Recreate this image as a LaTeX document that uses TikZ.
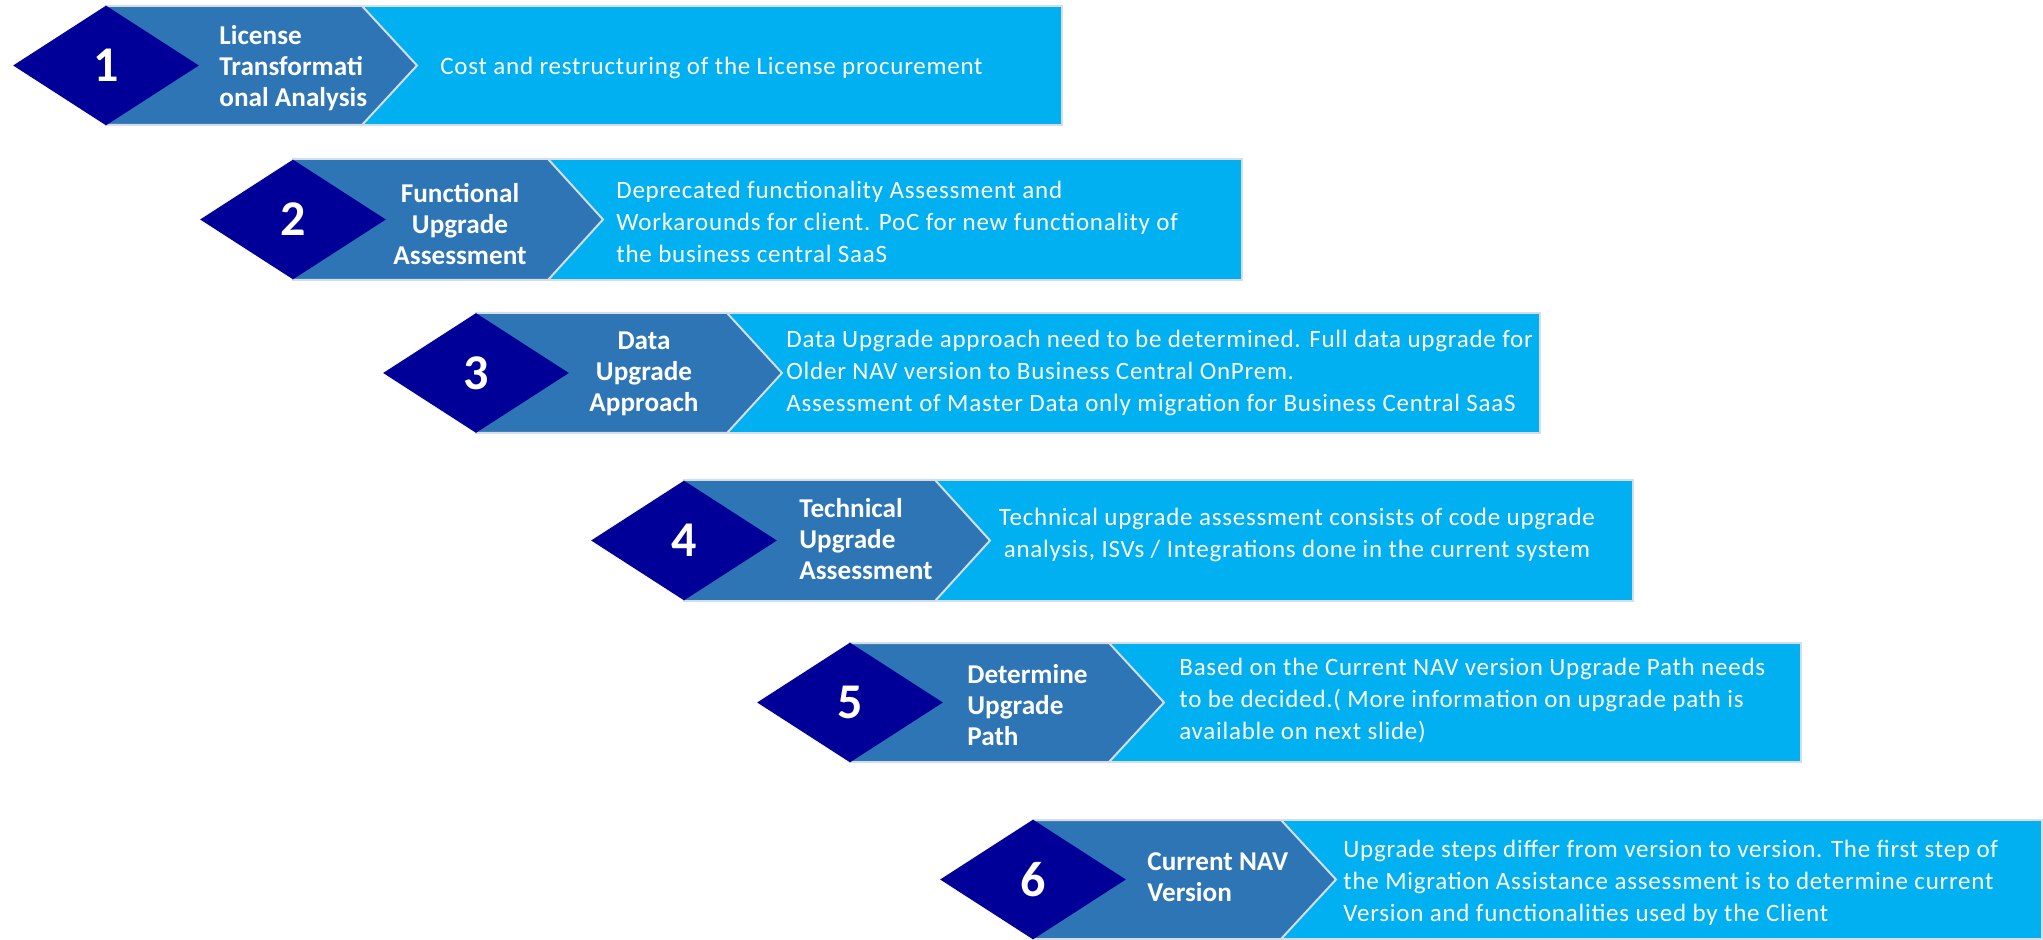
\documentclass[tikz,border=0pt]{standalone}
\usepackage{fontspec}
\setmainfont{Carlito}
\newfontfamily\descfont[LetterSpace=3]{Carlito}
\usetikzlibrary{shapes.geometric}
\definecolor{navy}{HTML}{000099}
\definecolor{midblue}{HTML}{2E75B6}
\definecolor{lightblue}{HTML}{00B0F0}
\definecolor{edgegray}{HTML}{D5DDE6}
\tikzset{
  numdiamond/.style={diamond, fill=navy, text=white, font=\bfseries\fontsize{25}{30}\selectfont, minimum width=93pt, minimum height=60pt, inner sep=0pt},
  labeltext/.style={text=white, font=\bfseries\fontsize{13.6}{15.5}\selectfont, inner sep=0pt},
  desctext/.style={text=white, font=\descfont\fontsize{12.5}{16}\selectfont, inner sep=0pt},
  descbox/.style={fill=lightblue, draw=edgegray, line width=1pt},
  chevbox/.style={fill=midblue, draw=edgegray, line width=1pt},
}
\newcommand\drawrow[5]{%
  \draw[descbox] (#1,#2) rectangle (#5,#3);
  \draw[chevbox] (#1,#2) -- ({#4-55},#2) -- (#4,{(#2+#3)/2}) -- ({#4-55},#3) -- (#1,#3) -- cycle;
}
\begin{document}
\begin{tikzpicture}[x=0.5pt,y=-0.5pt]
\useasboundingbox (0,0) rectangle (2043,940);
% row 1
\drawrow{106}{6}{125}{417}{1062}
\node[numdiamond] (d1) at (106,65.5) {1};
\node[labeltext, align=left, anchor=west] (l1) at (219,68) {License\\Transformati\\onal Analysis};
\node[desctext, align=left, anchor=west] (t1) at (440,68) {Cost and restructuring of the License procurement};
% row 2
\drawrow{293}{159}{280}{603}{1242}
\node[numdiamond] (d2) at (293,219.5) {2};
\node[labeltext, align=center] (l2) at (460,224) {Functional\\Upgrade\\Assessment};
\node[desctext, align=left, anchor=west] (t2) at (616,222) {Deprecated functionality Assessment and\\Workarounds for client. PoC for new functionality of\\the business central SaaS};
% row 3
\drawrow{476}{313}{433}{782}{1540}
\node[numdiamond] (d3) at (476,373) {3};
\node[labeltext, align=center] (l3) at (644,374) {Data\\Upgrade\\Approach};
\node[desctext, align=left, anchor=west] (t3) at (786,373) {Data Upgrade approach need to be determined. Full data upgrade for\\Older NAV version to Business Central OnPrem.\\Assessment of Master Data only migration for Business Central SaaS};
% row 4
\drawrow{684}{480}{601}{990}{1633}
\node[numdiamond] (d4) at (684,540.5) {4};
\node[labeltext, align=left, anchor=west] (l4) at (799,539) {Technical\\Upgrade\\Assessment};
\node[desctext, align=center] (t4) at (1297,535) {Technical upgrade assessment consists of code upgrade\\analysis, ISVs / Integrations done in the current system};
% row 5
\drawrow{850}{643}{762}{1164}{1801}
\node[numdiamond] (d5) at (850,702.5) {5};
\node[labeltext, align=left, anchor=west] (l5) at (967,705) {Determine\\Upgrade\\Path};
\node[desctext, align=left, anchor=west] (t5) at (1179,701) {Based on the Current NAV version Upgrade Path needs\\to be decided.( More information on upgrade path is\\available on next slide)};
% row 6
\drawrow{1033}{820}{939}{1336}{2042}
\node[numdiamond] (d6) at (1033,879.5) {6};
\node[labeltext, align=left, anchor=west] (l6) at (1147,877) {Current NAV\\Version};
\node[desctext, align=left, anchor=west] (t6) at (1343,883) {Upgrade steps differ from version to version. The first step of\\the Migration Assistance assessment is to determine current\\Version and functionalities used by the Client};
\end{tikzpicture}
\end{document}
